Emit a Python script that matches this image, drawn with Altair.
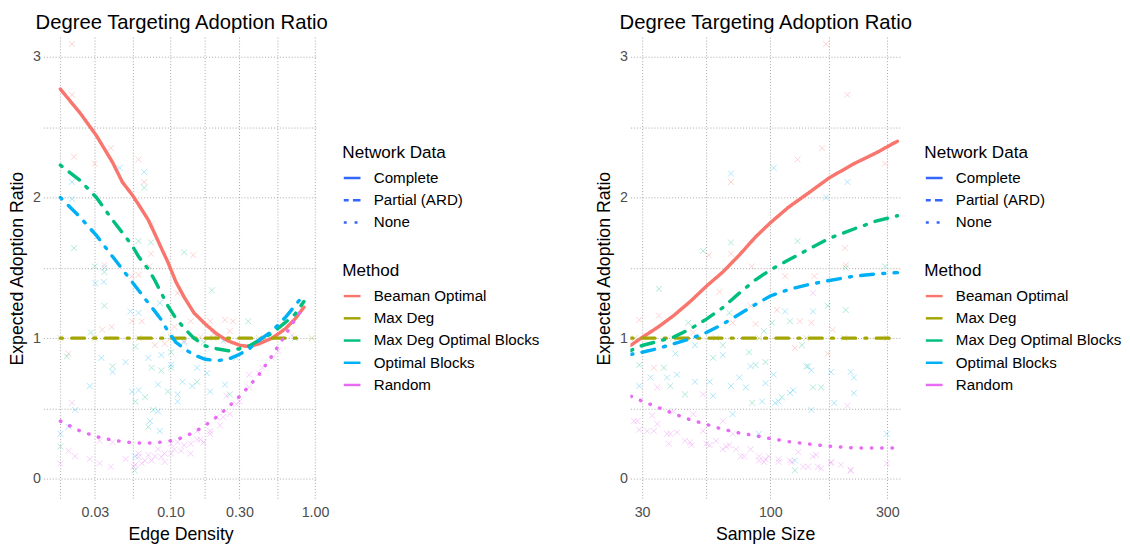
import altair as alt
import pandas as pd

METHODS = ["Beaman Optimal", "Max Deg", "Max Deg Optimal Blocks", "Optimal Blocks", "Random"]
METHOD_COLORS = ["#F8766D", "#A3A500", "#00BF7D", "#00B0F6", "#E76BF3"]
NETWORKS = ["Complete", "Partial (ARD)", "None"]
METHOD_NETWORK = ["Complete", "Partial (ARD)", "Partial (ARD)", "Partial (ARD)", "None"]

# ---- left panel: smoothed curves vs edge density ----
EDGE_X = [0.0173, 0.0237, 0.0307, 0.0397, 0.0464, 0.0542, 0.0601, 0.0702, 0.078, 0.0864,
          0.0959, 0.109, 0.1245, 0.1452, 0.174, 0.2088, 0.2506, 0.30, 0.3505, 0.409,
          0.504, 0.62, 0.7246, 0.8375]
EDGE_BEAMAN = [2.77, 2.60, 2.44, 2.25, 2.11, 2.02, 1.95, 1.84, 1.74, 1.64,
               1.54, 1.40, 1.29, 1.18, 1.10, 1.03, 0.98, 0.95, 0.94, 0.96,
               1.00, 1.065, 1.135, 1.22]
EDGE_MAXDEG = [1.0, 1.0, 1.0, 1.0, 1.0, 1.0, 1.0, 1.0, 1.0, 1.0,
               1.0, 1.0, 1.0, 1.0, 1.0, 1.0, 1.0, 1.0, 1.0, 1.0,
               1.0, 1.0, 1.0, 1.0]
EDGE_MDOB = [2.23, 2.12, 2.00, 1.84, 1.75, 1.66, 1.58, 1.49, 1.41, 1.32,
             1.23, 1.14, 1.07, 1.00, 0.945, 0.925, 0.91, 0.925, 0.945, 0.985,
             1.035, 1.11, 1.17, 1.26]
EDGE_OB = [2.00, 1.86, 1.73, 1.58, 1.49, 1.40, 1.34, 1.25, 1.19, 1.13,
           1.05, 0.97, 0.925, 0.88, 0.85, 0.84, 0.85, 0.885, 0.925, 0.985,
           1.05, 1.145, 1.23, 1.31]
EDGE_RANDOM = [0.41, 0.34, 0.30, 0.275, 0.265, 0.257, 0.255, 0.254, 0.256, 0.262,
               0.268, 0.276, 0.30, 0.33, 0.38, 0.44, 0.51, 0.585, 0.66, 0.74,
               0.875, 1.02, 1.13, 1.23]

# ---- left panel: individual simulation points ----
EDGE_PTS_BEAMAN = [(0.0208, 3.09), (0.0208, 2.73), (0.0215, 2.29), (0.0299, 2.24), (0.0387, 2.35),
                   (0.0601, 2.27), (0.0657, 2.11), (0.0740, 1.81), (0.0733, 1.60), (0.0714, 1.51),
                   (0.1437, 1.59), (0.0539, 1.44), (0.0601, 1.45), (0.0349, 1.52), (0.0197, 0.89),
                   (0.0337, 1.06), (0.0391, 1.08), (0.0542, 1.12), (0.0633, 1.12), (0.1120, 1.32),
                   (0.1378, 1.12), (0.1881, 1.12), (0.2376, 1.13), (0.2707, 1.12), (0.0780, 0.95),
                   (0.0911, 0.96), (0.1243, 0.98), (0.1610, 1.01), (0.1983, 1.03), (0.2568, 1.05),
                   (0.1064, 1.08), (0.1009, 1.01)]
EDGE_PTS_MAXDEG = [(0.0173, 1.0), (0.0299, 1.0), (0.0601, 1.0), (0.1009, 1.0), (0.1983, 1.0),
                   (0.4090, 1.0), (0.9500, 1.0)]
EDGE_PTS_MDOB = [(0.0657, 2.07), (0.0601, 1.69), (0.0733, 1.68), (0.1243, 1.61), (0.0215, 1.64),
                 (0.0299, 1.51), (0.0349, 1.47), (0.0192, 0.87), (0.0281, 1.04), (0.0349, 1.23),
                 (0.1931, 1.34), (0.3451, 1.12), (0.0571, 0.94), (0.0740, 0.79), (0.0864, 0.77),
                 (0.0759, 0.49), (0.0571, 0.55), (0.0565, 0.06), (0.0173, 0.23), (0.0397, 0.80),
                 (0.1009, 0.79), (0.7247, 1.00), (0.0667, 0.58), (0.0959, 0.62), (0.1530, 0.69),
                 (0.2570, 0.60), (0.1010, 0.90), (0.1700, 0.97), (0.0702, 0.37)]
EDGE_PTS_OB = [(0.0208, 2.11), (0.0208, 1.99), (0.0445, 2.21), (0.0657, 2.18), (0.0349, 1.50),
               (0.0173, 0.32), (0.0197, 0.37), (0.0219, 0.49), (0.0276, 0.66), (0.0302, 1.39),
               (0.0345, 1.40), (0.0332, 0.86), (0.0397, 0.76), (0.0489, 0.83), (0.0528, 1.19),
               (0.0601, 1.18), (0.0843, 1.25), (0.0864, 0.88), (0.1009, 0.81), (0.1120, 0.60),
               (0.1211, 0.69), (0.1415, 0.66), (0.1786, 0.75), (0.2376, 0.67), (0.2850, 0.86),
               (0.0721, 0.41), (0.0843, 0.34), (0.0601, 0.63), (0.0571, 0.16), (0.1529, 0.79),
               (0.0542, 0.62), (0.0820, 0.67), (0.1120, 0.55), (0.1880, 0.62), (0.0702, 0.86),
               (0.1240, 0.97), (0.2320, 0.98), (0.0820, 0.48)]
EDGE_PTS_RANDOM = [(0.0173, 0.11), (0.0197, 0.20), (0.0208, 0.54), (0.0219, 0.16), (0.0276, 0.14),
                   (0.0323, 0.11), (0.0387, 0.086), (0.0489, 0.14), (0.0571, 0.10), (0.0667, 0.13),
                   (0.0780, 0.16), (0.0911, 0.18), (0.1064, 0.21), (0.1243, 0.24), (0.1529, 0.28),
                   (0.1881, 0.34), (0.2317, 0.44), (0.2850, 0.53), (0.3505, 0.74), (0.4317, 0.79),
                   (0.2439, 0.59), (0.0702, 0.17), (0.0601, 0.18), (0.1009, 0.25), (0.0323, 0.27),
                   (0.0397, 0.26), (0.1697, 0.26), (0.1378, 0.18), (0.5560, 0.91), (0.6920, 1.02),
                   (0.0556, 0.086), (0.0633, 0.11), (0.0740, 0.13), (0.0864, 0.156), (0.1010, 0.18),
                   (0.1180, 0.20), (0.1380, 0.25), (0.1610, 0.28), (0.1880, 0.32), (0.2200, 0.38),
                   (0.2570, 0.46), (0.3000, 0.55), (0.3500, 0.65), (0.4090, 0.75), (0.5040, 0.86),
                   (0.0601, 0.156), (0.0820, 0.21), (0.1120, 0.26), (0.1530, 0.34), (0.2090, 0.44),
                   (0.0911, 0.12)]

# ---- right panel: smoothed curves vs sample size ----
SIZE_X = [27.0, 30.0, 34.6, 40.3, 47.1, 54.9, 64.0, 74.7, 87.1, 100.0,
          118.5, 142.6, 174.1, 219.3, 272.2, 330.0]
SIZE_BEAMAN = [0.95, 1.005, 1.075, 1.16, 1.26, 1.37, 1.47, 1.59, 1.72, 1.82,
               1.93, 2.03, 2.14, 2.24, 2.32, 2.40]
SIZE_MAXDEG = [1.0, 1.0, 1.0, 1.0, 1.0, 1.0, 1.0, 1.0, 1.0, 1.0,
               1.0, 1.0, 1.0, 1.0, 1.0, 1.0]
SIZE_MDOB = [0.913, 0.948, 0.976, 1.007, 1.065, 1.135, 1.217, 1.32, 1.415, 1.485,
             1.555, 1.63, 1.71, 1.776, 1.834, 1.87]
SIZE_OB = [0.885, 0.90, 0.925, 0.96, 0.995, 1.04, 1.10, 1.17, 1.24, 1.30,
           1.345, 1.38, 1.41, 1.44, 1.457, 1.466]
SIZE_RANDOM = [0.587, 0.552, 0.51, 0.463, 0.42, 0.387, 0.352, 0.326, 0.306, 0.286,
               0.265, 0.248, 0.232, 0.220, 0.219, 0.219]

# ---- right panel: individual simulation points ----
SIZE_PTS_BEAMAN = [(168.8, 3.09), (206.3, 2.73), (162.7, 2.35), (129.1, 2.27), (69.1, 2.11),
                   (293.9, 2.24), (69.1, 1.60), (56.1, 1.59), (83.9, 1.51), (201.2, 1.64),
                   (114.9, 1.44), (151.5, 1.44), (203.1, 1.52), (35.1, 1.16), (62.1, 1.33),
                   (83.1, 1.23), (87.1, 1.10), (106.4, 1.20), (131.9, 1.12), (147.0, 1.11),
                   (179.6, 1.06), (70.2, 1.11), (48.5, 1.04), (29.2, 1.13), (33.5, 0.79),
                   (126.0, 0.93), (171.5, 0.89)]
SIZE_PTS_MAXDEG = [(28.0, 1.0), (40.0, 1.0), (60.0, 1.0), (90.0, 1.0), (140.0, 1.0),
                   (200.0, 1.0), (300.0, 1.0)]
SIZE_PTS_MDOB = [(35.1, 1.35), (53.2, 1.62), (69.1, 1.68), (129.1, 1.69), (203.1, 1.50),
                 (293.9, 1.51), (46.3, 1.11), (68.1, 1.18), (101.6, 1.11), (120.3, 1.12),
                 (171.5, 1.23), (203.1, 1.20), (39.1, 0.66), (44.9, 0.60), (84.4, 0.54),
                 (95.5, 0.83), (111.4, 0.58), (149.3, 0.65), (140.4, 0.80), (94.1, 1.05),
                 (58.4, 0.86), (29.2, 0.81), (126.0, 0.06), (64.0, 0.95), (81.9, 0.90),
                 (134.5, 0.95), (36.8, 0.79), (87.1, 0.81), (161.2, 0.65)]
SIZE_PTS_OB = [(69.1, 2.17), (103.2, 2.21), (168.8, 2.00), (206.3, 2.11), (114.9, 1.19),
               (149.3, 1.19), (41.0, 0.89), (49.3, 0.95), (64.0, 0.88), (83.1, 0.80),
               (103.2, 0.74), (124.1, 0.63), (147.0, 0.77), (176.8, 0.76), (212.7, 0.76),
               (79.4, 0.65), (92.6, 0.55), (69.1, 0.66), (58.4, 0.59), (49.3, 0.69),
               (37.9, 0.72), (29.2, 0.66), (89.9, 0.32), (126.0, 0.13), (298.5, 0.32),
               (70.2, 0.46), (104.7, 0.54), (147.0, 0.49), (219.3, 0.72), (32.5, 0.72),
               (41.6, 0.74), (56.6, 0.69), (74.7, 0.72), (95.5, 0.68), (108.1, 0.55),
               (120.3, 0.61), (142.6, 0.80), (182.3, 0.54), (219.3, 0.61)]
SIZE_PTS_RANDOM = [(28.7, 0.41), (29.2, 0.35), (33.0, 0.45), (33.5, 0.34), (34.6, 0.65),
                   (38.5, 0.25), (41.6, 0.33), (47.1, 0.26), (53.2, 0.60), (56.6, 0.24),
                   (64.0, 0.21), (68.1, 0.24), (75.8, 0.16), (83.1, 0.21), (89.9, 0.16),
                   (94.1, 0.12), (98.5, 0.16), (108.1, 0.14), (122.2, 0.12), (130.0, 0.19),
                   (142.6, 0.086), (149.3, 0.16), (161.2, 0.074), (176.8, 0.11), (193.9, 0.10),
                   (212.7, 0.058), (149.3, 1.32), (206.3, 0.52), (298.5, 0.11), (39.1, 0.32),
                   (44.9, 0.27), (47.7, 0.24), (54.9, 0.25), (60.1, 0.27), (66.0, 0.23),
                   (72.4, 0.21), (78.2, 0.16), (89.9, 0.13), (95.5, 0.14), (108.1, 0.12),
                   (120.3, 0.13), (136.1, 0.086), (153.9, 0.17), (156.3, 0.086), (176.8, 0.12),
                   (212.7, 0.063), (27.8, 0.41), (31.5, 0.34), (34.6, 0.39), (37.9, 0.32),
                   (40.3, 0.48), (48.5, 0.46), (53.2, 0.34), (64.0, 0.41), (70.2, 0.32)]

FONT = "Liberation Sans"
GRID_COLOR = "#A6A6A6"


def lines_frame(xs, series):
    rows = []
    for method, network, ys in zip(METHODS, METHOD_NETWORK, series):
        for x, y in zip(xs, ys):
            rows.append({"x": x, "y": y, "Method": method, "Network": network})
    return pd.DataFrame(rows)


def points_frame(point_sets):
    rows = []
    for method, pts in zip(METHODS, point_sets):
        for x, y in pts:
            rows.append({"x": x, "y": y, "Method": method})
    return pd.DataFrame(rows)


LEG_COMMON = dict(orient="none", symbolType="stroke", symbolStrokeWidth=2.5, symbolSize=289,
                  labelFontSize=15.4, titleFontSize=17.4, labelLimit=300,
                  rowPadding=3.6, titlePadding=7, labelOffset=12, padding=0)


def panel(lines_df, pts_df, x_domain, x_values, x_label_expr, x_title,
          width, title_dx, legend_x):
    y_scale = alt.Scale(domain=[-0.145, 3.14], nice=False, zero=False)
    x_scale = alt.Scale(type="log", domain=x_domain, nice=False, zero=False)
    color_scale = alt.Scale(domain=METHODS, range=METHOD_COLORS)

    x_enc = alt.X("x:Q", scale=x_scale, axis=alt.Axis(
        values=x_values, labelExpr=x_label_expr, title=x_title,
        labelOverlap=False, labelFlush=False, labelPadding=6.5, titlePadding=7))
    y_enc = alt.Y("y:Q", scale=y_scale, axis=alt.Axis(
        values=[0, 0.5, 1, 1.5, 2, 2.5, 3],
        labelExpr="datum.value % 1 == 0 ? format(datum.value, 'd') : ''",
        title="Expected Adoption Ratio", labelOverlap=False, labelPadding=3,
        titlePadding=6))

    points = alt.Chart(pts_df).mark_point(
        shape="M-1,-1L1,1M-1,1L1,-1", filled=False, size=36, strokeWidth=1,
        opacity=0.32, clip=True
    ).encode(
        x=x_enc, y=y_enc,
        color=alt.Color("Method:N", scale=color_scale, legend=None),
    )

    lines = alt.Chart(lines_df).mark_line(
        strokeWidth=3.5, strokeCap="round", clip=True
    ).encode(
        x=x_enc, y=y_enc,
        color=alt.Color("Method:N", scale=color_scale, legend=alt.Legend(
            title="Method", legendX=legend_x, legendY=229, **LEG_COMMON)),
        strokeDash=alt.StrokeDash("Network:N", scale=alt.Scale(
            domain=NETWORKS, range=[[1, 0], [2, 9.5, 13, 9.5], [0.5, 10]]), legend=None),
        detail="Method:N",
    )

    net_legend = alt.Chart(lines_df).transform_filter("false").mark_line(
        strokeWidth=2.5
    ).encode(
        x=x_enc, y=y_enc,
        strokeDash=alt.StrokeDash("Network:N", scale=alt.Scale(
            domain=NETWORKS, range=[[1, 0], [5, 4.3, 8, 10], [3, 8]]),
            legend=alt.Legend(title="Network Data", legendX=legend_x, legendY=109,
                              symbolStrokeColor="#3366FF", **LEG_COMMON)),
    )

    return alt.layer(points, lines, net_legend).resolve_scale(
        strokeDash="independent"
    ).resolve_legend(
        color="independent", strokeDash="independent"
    ).properties(
        width=width, height=470,
        title=alt.TitleParams("Degree Targeting Adoption Ratio", anchor="start",
                              frame="group", fontSize=20.6, fontWeight="normal",
                              color="black", offset=4, dx=title_dx),
    )


left = panel(
    lines_frame(EDGE_X, [EDGE_BEAMAN, EDGE_MAXDEG, EDGE_MDOB, EDGE_OB, EDGE_RANDOM]),
    points_frame([EDGE_PTS_BEAMAN, EDGE_PTS_MAXDEG, EDGE_PTS_MDOB, EDGE_PTS_OB, EDGE_PTS_RANDOM]),
    [0.0132, 1.043],
    [0.0173205, 0.03, 0.0547723, 0.1, 0.173205, 0.3, 0.547723, 1.0],
    "indexof([0.03, 0.1, 0.3, 1], datum.value) >= 0 ? format(datum.value, '.2f') : ''",
    "Edge Density", 279, -8, 304,
)

right = panel(
    lines_frame(SIZE_X, [SIZE_BEAMAN, SIZE_MAXDEG, SIZE_MDOB, SIZE_OB, SIZE_RANDOM]),
    points_frame([SIZE_PTS_BEAMAN, SIZE_PTS_MAXDEG, SIZE_PTS_MDOB, SIZE_PTS_OB, SIZE_PTS_RANDOM]),
    [26.87, 337.4],
    [30, 54.7723, 100, 173.205, 300],
    "indexof([30, 100, 300], datum.value) >= 0 ? format(datum.value, 'd') : ''",
    "Sample Size", 274, -11, 299,
)

chart = alt.hconcat(left, right, spacing=56).properties(
    padding={"left": 0, "top": 0, "right": 0, "bottom": 0},
).configure(
    font=FONT,
).configure_view(
    stroke=None,
).configure_axis(
    grid=True, gridColor=GRID_COLOR, gridDash=[1, 2], gridWidth=1,
    domain=False, ticks=False,
    labelFont=FONT, labelFontSize=14.5, labelColor="#4D4D4D",
    titleFont=FONT, titleFontSize=18, titleFontWeight="normal", titleColor="black",
).configure_legend(
    labelFont=FONT, titleFont=FONT, labelColor="black", titleColor="black",
    titleFontWeight="normal",
).configure_title(
    font=FONT,
)

chart.save("out.html", embed_options={"renderer": "svg", "actions": False})
